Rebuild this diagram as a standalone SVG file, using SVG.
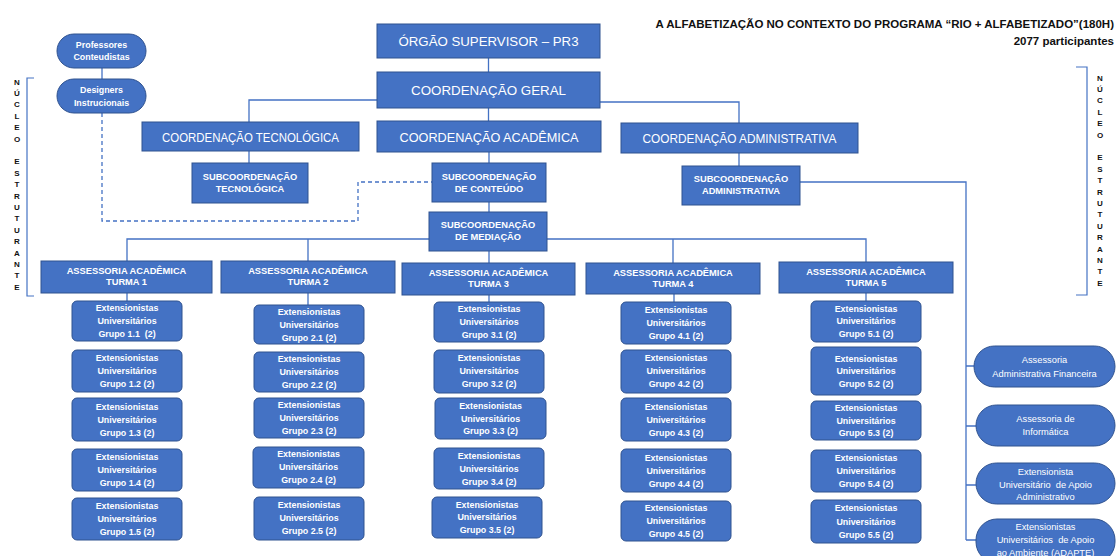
<svg xmlns="http://www.w3.org/2000/svg" width="1119" height="556" viewBox="0 0 1119 556">
<style>
.box{fill:#4472C4;stroke:#2F528F;stroke-width:1}
.ln{fill:none;stroke:#4472C4;stroke-width:1.3}
.dash{fill:none;stroke:#4472C4;stroke-width:1.3;stroke-dasharray:4 3}
.br{fill:none;stroke:#4472C4;stroke-width:1.2}
text{font-family:"Liberation Sans",Arial,sans-serif;fill:#fff;text-anchor:middle;dominant-baseline:central}
.h{font-size:13.5px}
.s{font-size:9.3px;font-weight:bold}
.g{font-size:8.9px;font-weight:bold}
.p{font-size:9.3px}
.t{font-size:11.5px;font-weight:bold;fill:#111;text-anchor:end;dominant-baseline:auto}
.v{font-size:8px;font-weight:bold;fill:#111}
</style>
<rect width="1119" height="556" fill="#fff"/>
<g id="title">
<text class="t" x="1114" y="28">A ALFABETIZAÇÃO NO CONTEXTO DO PROGRAMA “RIO + ALFABETIZADO”(180H)</text>
<text class="t" x="1114" y="45">2077 participantes</text>
</g>
<g id="connectors">
<path class="ln" d="M102 68V79"/>
<path class="dash" d="M102 113V221H358V182H432"/>
<path class="ln" d="M488.5 58V72M488.5 108V121M489 152V163M489 202V212M489 251V263"/>
<path class="ln" d="M377 100H249V122M249 151V163"/>
<path class="ln" d="M600 102H739V123M739 153V166"/>
<path class="ln" d="M800 182H966V540M966 366H974M966 426H976M966 485H976M966 540H976"/>
<path class="ln" d="M127 261V239H866V262M308 239V261M673 239V263"/>
<path class="ln" d="M127 293V301M308 293V305M489 295V302M674 294V302M866 293V301"/>
<path class="br" d="M34 78H27V296H34"/>
<path class="br" d="M1076 67H1087V295H1076"/>
</g>
<g id="nucleo-left">
<text class="v" x="17" y="82">N</text><text class="v" x="17" y="93.4">Ú</text><text class="v" x="17" y="104.8">C</text><text class="v" x="17" y="116.2">L</text><text class="v" x="17" y="127.6">E</text><text class="v" x="17" y="139">O</text>
<text class="v" x="17" y="161.8">E</text><text class="v" x="17" y="173.2">S</text><text class="v" x="17" y="184.6">T</text><text class="v" x="17" y="196">R</text><text class="v" x="17" y="207.4">U</text><text class="v" x="17" y="218.8">T</text><text class="v" x="17" y="230.2">U</text><text class="v" x="17" y="241.6">R</text><text class="v" x="17" y="253">A</text><text class="v" x="17" y="264.4">N</text><text class="v" x="17" y="275.8">T</text><text class="v" x="17" y="287.2">E</text>
</g>
<g id="nucleo-right">
<text class="v" x="1100" y="78">N</text><text class="v" x="1100" y="89.4">Ú</text><text class="v" x="1100" y="100.8">C</text><text class="v" x="1100" y="112.2">L</text><text class="v" x="1100" y="123.6">E</text><text class="v" x="1100" y="135">O</text>
<text class="v" x="1100" y="157.8">E</text><text class="v" x="1100" y="169.2">S</text><text class="v" x="1100" y="180.6">T</text><text class="v" x="1100" y="192">R</text><text class="v" x="1100" y="203.4">U</text><text class="v" x="1100" y="214.8">T</text><text class="v" x="1100" y="226.2">U</text><text class="v" x="1100" y="237.6">R</text><text class="v" x="1100" y="249">A</text><text class="v" x="1100" y="260.4">N</text><text class="v" x="1100" y="271.8">T</text><text class="v" x="1100" y="283.2">E</text>
</g>
<g id="professores"><rect class="box" x="57" y="34" width="89" height="34" rx="17"/><text class="g" x="101.5" y="45">Professores</text><text class="g" x="101.5" y="57">Conteudistas</text></g>
<g id="designers"><rect class="box" x="57" y="79" width="89" height="34" rx="17"/><text class="g" x="101.5" y="90">Designers</text><text class="g" x="101.5" y="103">Instrucionais</text></g>
<g id="supervisor"><rect class="box" x="377" y="24" width="223" height="34"/><text class="h" x="488.5" y="41.5" textLength="180" lengthAdjust="spacingAndGlyphs">ÓRGÃO SUPERVISOR – PR3</text></g>
<g id="coord-geral"><rect class="box" x="377" y="72" width="223" height="36"/><text class="h" x="488.5" y="90.5" textLength="155" lengthAdjust="spacingAndGlyphs">COORDENAÇÃO GERAL</text></g>
<g id="coord-academica"><rect class="box" x="377" y="121" width="224" height="31"/><text class="h" x="489" y="137" textLength="179" lengthAdjust="spacingAndGlyphs">COORDENAÇÃO ACADÊMICA</text></g>
<g id="coord-tecnologica"><rect class="box" x="142" y="122" width="217" height="29"/><text class="h" x="250.5" y="137" textLength="177" lengthAdjust="spacingAndGlyphs">COORDENAÇÃO TECNOLÓGICA</text></g>
<g id="coord-administrativa"><rect class="box" x="621" y="123" width="237" height="30"/><text class="h" x="739.5" y="138.5" textLength="194" lengthAdjust="spacingAndGlyphs">COORDENAÇÃO ADMINISTRATIVA</text></g>
<g id="sub-tecnologica"><rect class="box" x="192" y="163" width="116" height="40"/><text class="s" x="250" y="177">SUBCOORDENAÇÃO</text><text class="s" x="250" y="189">TECNOLÓGICA</text></g>
<g id="sub-conteudo"><rect class="box" x="432" y="163" width="114" height="39"/><text class="s" x="489" y="176.5">SUBCOORDENAÇÃO</text><text class="s" x="489" y="189">DE CONTEÚDO</text></g>
<g id="sub-mediacao"><rect class="box" x="429" y="212" width="118" height="39"/><text class="s" x="488" y="224.5">SUBCOORDENAÇÃO</text><text class="s" x="488" y="237">DE MEDIAÇÃO</text></g>
<g id="sub-administrativa"><rect class="box" x="682" y="166" width="118" height="39"/><text class="s" x="741" y="178.5">SUBCOORDENAÇÃO</text><text class="s" x="741" y="191">ADMINISTRATIVA</text></g>
<g id="turma1"><rect class="box" x="41" y="261" width="171" height="32"/><text class="s" x="126.5" y="271">ASSESSORIA ACADÊMICA</text><text class="s" x="126.5" y="282">TURMA 1</text></g>
<g id="turma2"><rect class="box" x="221" y="261" width="174" height="32"/><text class="s" x="308" y="271">ASSESSORIA ACADÊMICA</text><text class="s" x="308" y="282">TURMA 2</text></g>
<g id="turma3"><rect class="box" x="402" y="263" width="173" height="32"/><text class="s" x="488.5" y="273">ASSESSORIA ACADÊMICA</text><text class="s" x="488.5" y="284">TURMA 3</text></g>
<g id="turma4"><rect class="box" x="586" y="263" width="174" height="31"/><text class="s" x="673" y="273">ASSESSORIA ACADÊMICA</text><text class="s" x="673" y="284">TURMA 4</text></g>
<g id="turma5"><rect class="box" x="779" y="262" width="174" height="31"/><text class="s" x="866" y="272">ASSESSORIA ACADÊMICA</text><text class="s" x="866" y="283">TURMA 5</text></g>
<g id="g1-1"><rect class="box" x="72" y="301" width="110" height="40" rx="5"/><text class="g" x="127" y="308">Extensionistas</text><text class="g" x="127" y="321">Universitários</text><text class="g" x="127" y="334" xml:space="preserve">Grupo 1.1  (2)</text></g>
<g id="g1-2"><rect class="box" x="72" y="350" width="110" height="42" rx="5"/><text class="g" x="127" y="358">Extensionistas</text><text class="g" x="127" y="371">Universitários</text><text class="g" x="127" y="384">Grupo 1.2 (2)</text></g>
<g id="g1-3"><rect class="box" x="72" y="398" width="110" height="43" rx="5"/><text class="g" x="127" y="407">Extensionistas</text><text class="g" x="127" y="420">Universitários</text><text class="g" x="127" y="433">Grupo 1.3 (2)</text></g>
<g id="g1-4"><rect class="box" x="72" y="449" width="110" height="42" rx="5"/><text class="g" x="127" y="457">Extensionistas</text><text class="g" x="127" y="470">Universitários</text><text class="g" x="127" y="483">Grupo 1.4 (2)</text></g>
<g id="g1-5"><rect class="box" x="72" y="498" width="110" height="42" rx="5"/><text class="g" x="127" y="506">Extensionistas</text><text class="g" x="127" y="519">Universitários</text><text class="g" x="127" y="532">Grupo 1.5 (2)</text></g>
<g id="g2-1"><rect class="box" x="254" y="305" width="110" height="39" rx="5"/><text class="g" x="309" y="312">Extensionistas</text><text class="g" x="309" y="325">Universitários</text><text class="g" x="309" y="338">Grupo 2.1 (2)</text></g>
<g id="g2-2"><rect class="box" x="254" y="352" width="110" height="40" rx="5"/><text class="g" x="309" y="359">Extensionistas</text><text class="g" x="309" y="372">Universitários</text><text class="g" x="309" y="385">Grupo 2.2 (2)</text></g>
<g id="g2-3"><rect class="box" x="254" y="398" width="110" height="40" rx="5"/><text class="g" x="309" y="405">Extensionistas</text><text class="g" x="309" y="418">Universitários</text><text class="g" x="309" y="431">Grupo 2.3 (2)</text></g>
<g id="g2-4"><rect class="box" x="253" y="447" width="111" height="41" rx="5"/><text class="g" x="308.5" y="454">Extensionistas</text><text class="g" x="308.5" y="467">Universitários</text><text class="g" x="308.5" y="480">Grupo 2.4 (2)</text></g>
<g id="g2-5"><rect class="box" x="254" y="497" width="110" height="43" rx="5"/><text class="g" x="309" y="505">Extensionistas</text><text class="g" x="309" y="518">Universitários</text><text class="g" x="309" y="531">Grupo 2.5 (2)</text></g>
<g id="g3-1"><rect class="box" x="434" y="302" width="110" height="40" rx="5"/><text class="g" x="489" y="309">Extensionistas</text><text class="g" x="489" y="322">Universitários</text><text class="g" x="489" y="335">Grupo 3.1 (2)</text></g>
<g id="g3-2"><rect class="box" x="434" y="350" width="110" height="43" rx="5"/><text class="g" x="489" y="358">Extensionistas</text><text class="g" x="489" y="371">Universitários</text><text class="g" x="489" y="384">Grupo 3.2 (2)</text></g>
<g id="g3-3"><rect class="box" x="435" y="398" width="111" height="41" rx="5"/><text class="g" x="490.5" y="406">Extensionistas</text><text class="g" x="490.5" y="419">Universitários</text><text class="g" x="490.5" y="431">Grupo 3.3 (2)</text></g>
<g id="g3-4"><rect class="box" x="434" y="448" width="110" height="41" rx="5"/><text class="g" x="489" y="456">Extensionistas</text><text class="g" x="489" y="469">Universitários</text><text class="g" x="489" y="482">Grupo 3.4 (2)</text></g>
<g id="g3-5"><rect class="box" x="432" y="497" width="110" height="41" rx="5"/><text class="g" x="487" y="505">Extensionistas</text><text class="g" x="487" y="517">Universitários</text><text class="g" x="487" y="530">Grupo 3.5 (2)</text></g>
<g id="g4-1"><rect class="box" x="621" y="302" width="110" height="42" rx="5"/><text class="g" x="676" y="310">Extensionistas</text><text class="g" x="676" y="323">Universitários</text><text class="g" x="676" y="336">Grupo 4.1 (2)</text></g>
<g id="g4-2"><rect class="box" x="621" y="350" width="110" height="43" rx="5"/><text class="g" x="676" y="358">Extensionistas</text><text class="g" x="676" y="371">Universitários</text><text class="g" x="676" y="384">Grupo 4.2 (2)</text></g>
<g id="g4-3"><rect class="box" x="621" y="398" width="110" height="43" rx="5"/><text class="g" x="676" y="407">Extensionistas</text><text class="g" x="676" y="420">Universitários</text><text class="g" x="676" y="433">Grupo 4.3 (2)</text></g>
<g id="g4-4"><rect class="box" x="621" y="449" width="110" height="43" rx="5"/><text class="g" x="676" y="458">Extensionistas</text><text class="g" x="676" y="471">Universitários</text><text class="g" x="676" y="484">Grupo 4.4 (2)</text></g>
<g id="g4-5"><rect class="box" x="621" y="501" width="110" height="40" rx="5"/><text class="g" x="676" y="508">Extensionistas</text><text class="g" x="676" y="521">Universitários</text><text class="g" x="676" y="534">Grupo 4.5 (2)</text></g>
<g id="g5-1"><rect class="box" x="811" y="301" width="110" height="41" rx="5"/><text class="g" x="866" y="309">Extensionistas</text><text class="g" x="866" y="321">Universitários</text><text class="g" x="866" y="334">Grupo 5.1 (2)</text></g>
<g id="g5-2"><rect class="box" x="811" y="347" width="110" height="48" rx="5"/><text class="g" x="866" y="359">Extensionistas</text><text class="g" x="866" y="371">Universitários</text><text class="g" x="866" y="384">Grupo 5.2 (2)</text></g>
<g id="g5-3"><rect class="box" x="811" y="401" width="110" height="39" rx="5"/><text class="g" x="866" y="408">Extensionistas</text><text class="g" x="866" y="421">Universitários</text><text class="g" x="866" y="433">Grupo 5.3 (2)</text></g>
<g id="g5-4"><rect class="box" x="811" y="450" width="110" height="42" rx="5"/><text class="g" x="866" y="458">Extensionistas</text><text class="g" x="866" y="471">Universitários</text><text class="g" x="866" y="484">Grupo 5.4 (2)</text></g>
<g id="g5-5"><rect class="box" x="811" y="500" width="110" height="43" rx="5"/><text class="g" x="866" y="508">Extensionistas</text><text class="g" x="866" y="522">Universitários</text><text class="g" x="866" y="535">Grupo 5.5 (2)</text></g>
<g id="assessoria-financeira"><rect class="box" x="974" y="346" width="141" height="41" rx="20.5"/><text class="p" x="1044.5" y="360">Assessoria</text><text class="p" x="1044.5" y="374">Administrativa Financeira</text></g>
<g id="assessoria-informatica"><rect class="box" x="976" y="405" width="139" height="41" rx="20.5"/><text class="p" x="1045.5" y="419">Assessoria de</text><text class="p" x="1045.5" y="432">Informática</text></g>
<g id="apoio-administrativo"><rect class="box" x="976" y="463" width="139" height="41" rx="20.5"/><text class="p" x="1045.5" y="472">Extensionista</text><text class="p" x="1045.5" y="484.5" xml:space="preserve">Universitário  de Apoio</text><text class="p" x="1045.5" y="497">Administrativo</text></g>
<g id="apoio-ambiente"><rect class="box" x="976" y="519" width="139" height="44" rx="21"/><text class="p" x="1045.5" y="527">Extensionistas</text><text class="p" x="1045.5" y="540" xml:space="preserve">Universitários  de Apoio</text><text class="p" x="1045.5" y="553">ao Ambiente (ADAPTE)</text></g>
</svg>
